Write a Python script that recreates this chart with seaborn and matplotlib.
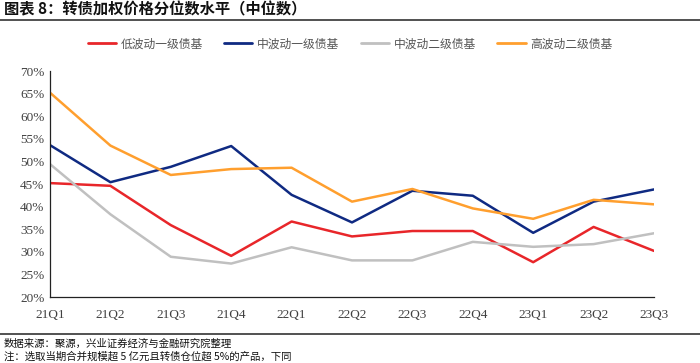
import matplotlib
matplotlib.use('agg')
import numpy as np
import pandas as pd
import matplotlib.pyplot as plt
import seaborn as sns
from matplotlib.lines import Line2D

quarters = ['21Q1', '21Q2', '21Q3', '21Q4', '22Q1', '22Q2', '22Q3', '22Q4', '23Q1', '23Q2', '23Q3']
low_1 = [45.2, 44.6, 35.9, 29.1, 36.7, 33.4, 34.6, 34.6, 27.7, 35.5, 30.2]
mid_1 = [53.6, 45.4, 48.8, 53.4, 42.6, 36.5, 43.5, 42.4, 34.2, 41.1, 43.8]
mid_2 = [49.4, 38.3, 28.9, 27.4, 31.0, 28.1, 28.1, 32.2, 31.1, 31.7, 34.1]
high_2 = [65.2, 53.5, 47.0, 48.3, 48.6, 41.1, 43.9, 39.6, 37.3, 41.5, 40.5]
names = ['低波动一级债基', '中波动一级债基', '中波动二级债基', '高波动二级债基']
colors = ['#e8262a', '#0f2a82', '#c0c0c0', '#ff9f2e']

sns.set_style('white')
plt.rcParams['font.family'] = ['Noto Sans CJK SC', 'DejaVu Sans']

df = pd.DataFrame({'q': quarters * 4,
                   'x': list(range(len(quarters))) * 4,
                   'v': low_1 + mid_1 + mid_2 + high_2,
                   's': [n for n in names for _ in quarters]})

fig = plt.figure(figsize=(7, 3.63), dpi=100)
ax = fig.add_axes([50 / 700, 1 - 297 / 363, 604 / 700, 226 / 363])
sns.lineplot(data=df, x='x', y='v', hue='s', palette=colors, hue_order=names,
             linewidth=1.8, ax=ax, legend=False)

ax.set_xlim(0, len(quarters) - 1)
ax.set_ylim(20, 70)
ax.set_xticks(range(len(quarters)))
ax.set_xticklabels(quarters, family='Liberation Serif', fontsize=9.5, color='#404040')
ax.set_yticks(np.arange(20, 71, 5))
ax.set_yticklabels([f'{v}%' for v in range(20, 71, 5)], family='Liberation Serif',
                   fontsize=9.5, color='#404040')
ax.set_xlabel('')
ax.set_ylabel('')
for s in ['top', 'right']:
    ax.spines[s].set_visible(False)
for s in ['left', 'bottom']:
    ax.spines[s].set_color('#222222')
    ax.spines[s].set_linewidth(0.9)
ax.tick_params(axis='x', direction='out', length=4, color='#222222', pad=5)
ax.tick_params(axis='y', direction='in', length=4, color='#222222', pad=4)

handles = [Line2D([], [], color=c, lw=2) for c in colors]
fig.legend(handles, names, loc='center', bbox_to_anchor=(0.5, 1 - 44 / 363), ncol=4,
           frameon=False, fontsize=8.5, handlelength=2.4, columnspacing=1.8,
           handletextpad=0.4, labelcolor='#555555')

fig.text(0.005, 1 - 9 / 363, '图表 8：转债加权价格分位数水平（中位数）', fontsize=11,
         fontweight='bold', va='center', ha='left', color='#111111')
fig.add_artist(Line2D([0, 1], [1 - 20 / 363] * 2, color='#333333', lw=1.2))
fig.add_artist(Line2D([0, 1], [1 - 334 / 363] * 2, color='#333333', lw=1.2))
fig.text(0.005, 1 - 344 / 363, '数据来源：聚源，兴业证券经济与金融研究院整理', fontsize=7.5,
         va='center', ha='left', color='#111111')
fig.text(0.005, 1 - 356 / 363, '注：选取当期合并规模超 5 亿元且转债仓位超 5%的产品，下同', fontsize=7.5,
         va='center', ha='left', color='#111111')

fig.savefig('out.png', dpi=100)
